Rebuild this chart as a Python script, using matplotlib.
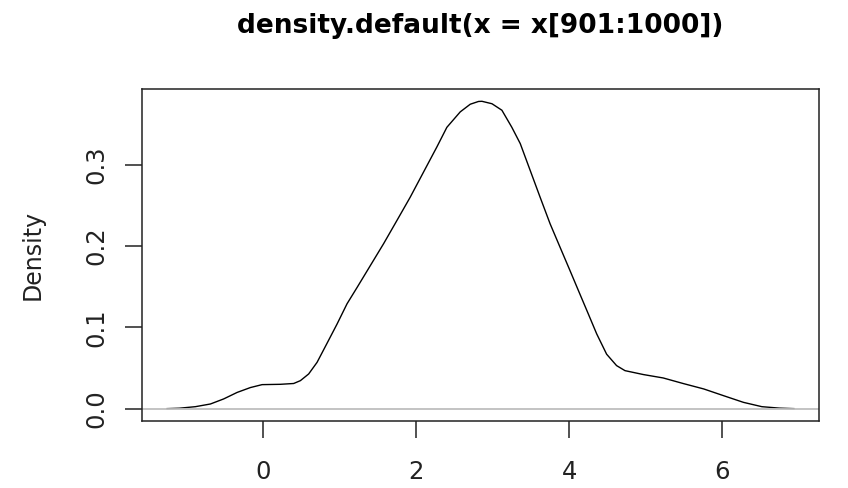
import matplotlib
matplotlib.use("Agg")
import matplotlib.pyplot as plt

# Kernel density estimate of x[901:1000]: evaluation grid and density values
grid_x = [-1.26, -1.10, -0.889, -0.693, -0.52, -0.344, -0.17, -0.017, 0.222, 0.396,
          0.484, 0.592, 0.702, 0.83, 0.963, 1.094, 1.225, 1.399, 1.573, 1.747,
          1.92, 2.095, 2.27, 2.40, 2.575, 2.706, 2.814, 2.859, 2.99, 3.12,
          3.25, 3.36, 3.49, 3.62, 3.75, 3.88, 4.01, 4.14, 4.25, 4.36,
          4.49, 4.62, 4.73, 4.97, 5.23, 5.49, 5.76, 6.02, 6.28, 6.52,
          6.75, 6.94]
density_y = [0.0001, 0.0006, 0.0025, 0.0058, 0.012, 0.020, 0.026, 0.0296, 0.030, 0.031,
             0.0345, 0.0427, 0.057, 0.080, 0.104, 0.129, 0.149, 0.176, 0.203, 0.2315,
             0.260, 0.291, 0.322, 0.346, 0.365, 0.3744, 0.3778, 0.378, 0.375, 0.367,
             0.346, 0.326, 0.293, 0.260, 0.2275, 0.1987, 0.170, 0.141, 0.1166, 0.092,
             0.067, 0.053, 0.0468, 0.042, 0.0378, 0.031, 0.0243, 0.016, 0.0078, 0.0025,
             0.0007, 0.0001]

x_ticks = [0, 2, 4, 6]
y_ticks = [0.0, 0.1, 0.2, 0.3]
y_tick_labels = ["0.0", "0.1", "0.2", "0.3"]
title = "density.default(x = x[901:1000])"
y_label = "Density"

plt.rcParams["font.family"] = ["DejaVu Sans"]

fig = plt.figure(figsize=(8.48, 4.88), dpi=100)
ax = fig.add_axes([142 / 848, 1 - 421 / 488, (819 - 142) / 848, (421 - 89) / 488])

ax.plot(grid_x, density_y, color="black", lw=1.0)
ax.axhline(0, color="#BEBEBE", lw=1.3)

# 4% padding around the data range on both axes
xr = max(grid_x) - min(grid_x)
ax.set_xlim(min(grid_x) - 0.04 * xr, max(grid_x) + 0.04 * xr)
yr = max(density_y)
ax.set_ylim(-0.04 * yr, yr * 1.04)

ax.set_xticks(x_ticks)
ax.set_xticklabels([str(t) for t in x_ticks])
ax.set_yticks(y_ticks)
ax.set_yticklabels(y_tick_labels, rotation=90, va="center")

for sp in ax.spines.values():
    sp.set_linewidth(1.1)
    sp.set_color("#222222")
ax.tick_params(axis="both", length=12, width=1.1, labelsize=17.5,
               color="#222222", labelcolor="#222222")
ax.tick_params(axis="x", pad=16)
ax.tick_params(axis="y", pad=12)

fig.text(33 / 848, 1 - 255 / 488, y_label, rotation=90, ha="center", va="center",
         fontsize=17, color="#222222")
ax.set_title(title, fontsize=19, fontweight="bold", pad=40)

fig.savefig("out.png", dpi=100)
